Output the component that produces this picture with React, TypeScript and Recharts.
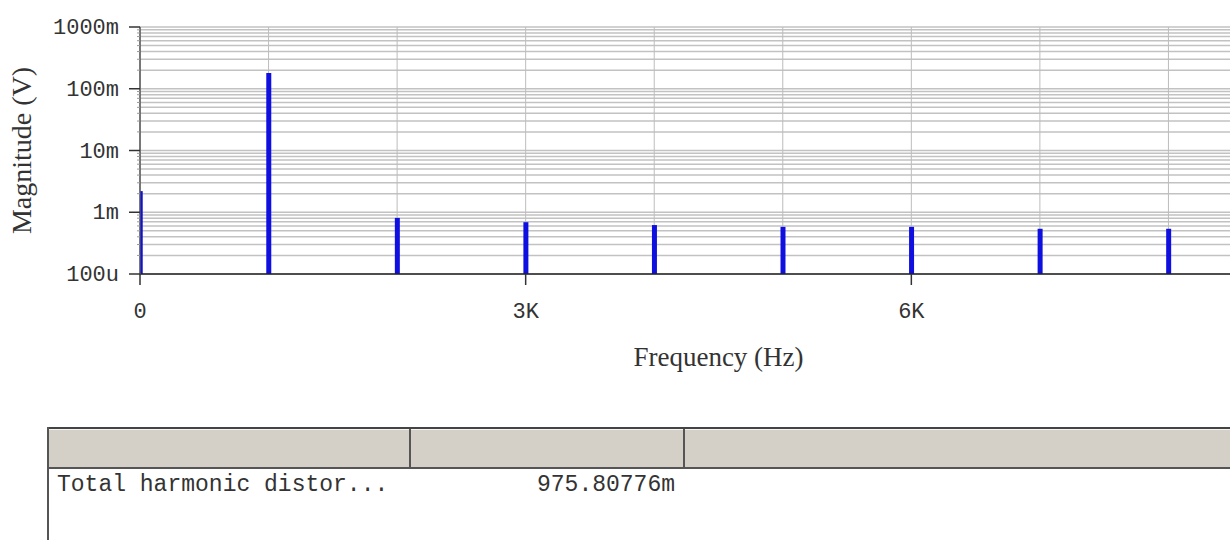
import React from "react";
import { BarChart, Bar, XAxis, YAxis, CartesianGrid, Label } from "recharts";

// harmonic spectrum (Hz / V)
const freqs = [0, 1000, 2000, 3000, 4000, 5000, 6000, 7000, 8000];
const magnitudes = [0.0022, 0.18, 0.00081, 0.00069, 0.00062, 0.00058, 0.00058, 0.00054, 0.00054];

const xTicks = [0, 1000, 2000, 3000, 4000, 5000, 6000, 7000, 8000, 9000];
const xTickLabels: Record<number, string> = { 0: "0", 3000: "3K", 6000: "6K" };

const decades = [0.0001, 0.001, 0.01, 0.1, 1];
const decadeLabels = ["100u", "1m", "10m", "100m", "1000m"];
const minorSteps = [1, 2, 3, 4, 5, 6, 7, 8, 9];

const tableHeaders = ["", "", ""];
const tableRows = [["Total harmonic distor...", "975.80776m", ""]];

const yTicks = decades
  .slice(0, -1)
  .flatMap((d) => minorSteps.map((m) => d * m))
  .concat([1]);

const data = freqs.map((f, i) => ({ freq: f, mag: magnitudes[i] }));

const MONO = "'Liberation Mono', 'DejaVu Sans Mono', monospace";
const SERIF = "'Liberation Serif', 'DejaVu Serif', serif";

function decadeIndex(v: number) {
  return decades.findIndex((d) => Math.abs(v - d) / d < 1e-6);
}

function YTick(props: any) {
  const { x, y, payload } = props;
  const idx = decadeIndex(payload.value);
  if (idx < 0) {
    return <line x1={x - 3} x2={x} y1={y} y2={y} stroke="#999" strokeWidth={1} />;
  }
  return (
    <g>
      <line x1={x - 11} x2={x} y1={y} y2={y} stroke="#333" strokeWidth={1.5} />
      <text x={x - 21} y={y + 7} textAnchor="end" fontFamily={MONO} fontSize={22} fill="#333">
        {decadeLabels[idx]}
      </text>
    </g>
  );
}

function XTick(props: any) {
  const { x, y, payload } = props;
  const lbl = xTickLabels[payload.value];
  if (lbl === undefined) return <g />;
  return (
    <g>
      <line x1={x} x2={x} y1={y} y2={y + 11} stroke="#333" strokeWidth={1.5} />
      <text x={x} y={y + 44} textAnchor="middle" fontFamily={MONO} fontSize={22} fill="#333">
        {lbl}
      </text>
    </g>
  );
}

function YTitle(props: any) {
  const vb = props.viewBox;
  const cx = 21;
  const cy = vb.y + vb.height / 2;
  return (
    <text
      x={cx}
      y={cy}
      transform={`rotate(-90 ${cx} ${cy})`}
      textAnchor="middle"
      dominantBaseline="central"
      fontFamily={SERIF}
      fontSize={28}
      fill="#333"
    >
      Magnitude (V)
    </text>
  );
}

function XTitle(props: any) {
  const vb = props.viewBox;
  return (
    <text
      x={vb.x + vb.width / 2}
      y={vb.y + 83}
      textAnchor="middle"
      dominantBaseline="central"
      fontFamily={SERIF}
      fontSize={27}
      fill="#333"
    >
      Frequency (Hz)
    </text>
  );
}

const colWidths = [362, 274, 664];

export default function App() {
  return (
    <div
      style={{
        position: "absolute",
        left: 0,
        top: 0,
        width: 1230,
        height: 540,
        overflow: "hidden",
        background: "#fff",
      }}
    >
      <BarChart
        width={1297}
        height={400}
        data={data}
        margin={{ top: 27, right: 0, bottom: 26, left: 0 }}
      >
        <CartesianGrid horizontal={true} vertical={false} stroke="#c2c2c2" strokeWidth={1.5} />
        <CartesianGrid horizontal={false} vertical={true} stroke="#bdbdbd" strokeWidth={1} />
        <XAxis
          dataKey="freq"
          type="number"
          domain={[0, 9000]}
          ticks={xTicks}
          interval={0}
          allowDataOverflow
          height={100}
          tickSize={0}
          tickMargin={0}
          tickLine={false}
          tick={<XTick />}
          axisLine={{ stroke: "#222", strokeWidth: 1.5 }}
        >
          <Label content={<XTitle />} />
        </XAxis>
        <YAxis
          type="number"
          scale="log"
          domain={[0.0001, 1]}
          ticks={yTicks}
          interval={0}
          allowDataOverflow
          width={140}
          tickSize={0}
          tickMargin={0}
          tickLine={false}
          tick={<YTick />}
          axisLine={{ stroke: "#555", strokeWidth: 1.5 }}
        >
          <Label content={<YTitle />} />
        </YAxis>
        <Bar dataKey="mag" barSize={5} fill="#0f0fe0" isAnimationActive={false} />
      </BarChart>

      <div
        style={{
          position: "absolute",
          left: 47,
          top: 427,
          width: 1300,
          height: 140,
          borderLeft: "2px solid #555",
          fontFamily: MONO,
          fontSize: 23,
          color: "#333",
        }}
      >
        <div
          style={{
            display: "flex",
            height: 38,
            background: "#d4d0c8",
            borderTop: "2px solid #444",
            borderBottom: "2px solid #555",
            boxShadow: "inset 0 1px 0 #f4f4f0",
          }}
        >
          {tableHeaders.map((h, i) => (
            <div
              key={i}
              style={{
                width: colWidths[i],
                flexShrink: 0,
                boxSizing: "border-box",
                borderRight: i < tableHeaders.length - 1 ? "2px solid #555" : "none",
              }}
            >
              {h}
            </div>
          ))}
        </div>
        {tableRows.map((row, r) => (
          <div key={r} style={{ display: "flex", paddingTop: 2, lineHeight: "28px" }}>
            {row.map((c, i) => (
              <div
                key={i}
                style={{
                  width: colWidths[i],
                  flexShrink: 0,
                  boxSizing: "border-box",
                  paddingLeft: i === 0 ? 8 : 0,
                  paddingRight: i === 1 ? 10 : 0,
                  textAlign: i === 1 ? "right" : "left",
                  whiteSpace: "pre",
                }}
              >
                {c}
              </div>
            ))}
          </div>
        ))}
      </div>
    </div>
  );
}
